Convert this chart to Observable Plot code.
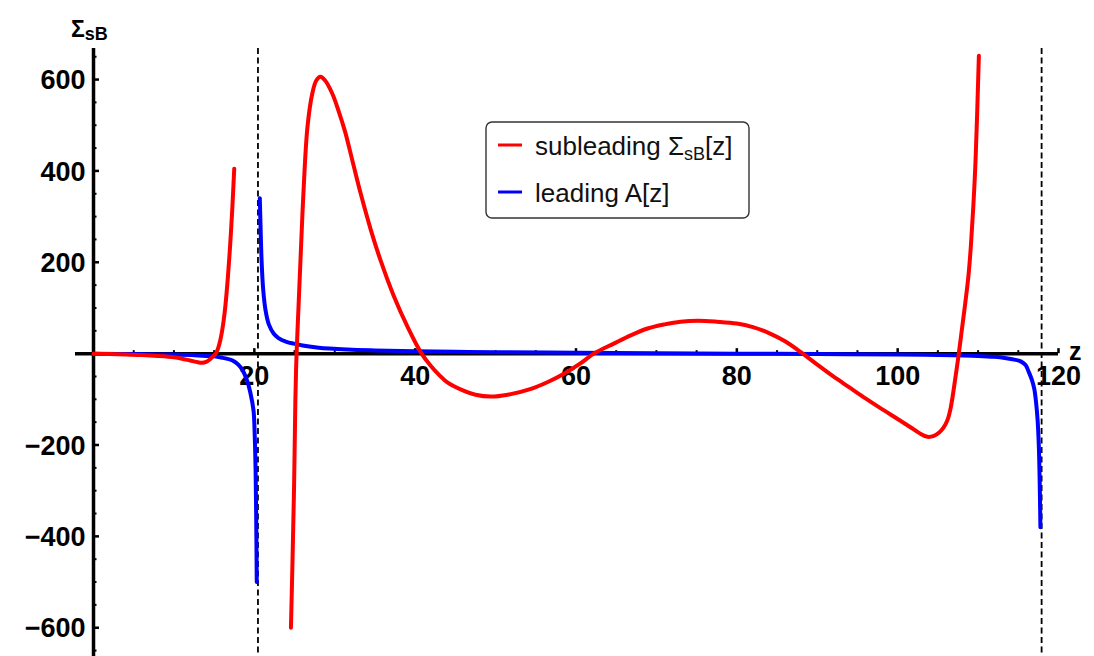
<!DOCTYPE html>
<html>
<head>
<meta charset="utf-8">
<script src="https://cdn.jsdelivr.net/npm/d3@7"></script>
<script src="https://cdn.jsdelivr.net/npm/@observablehq/plot@0.6"></script>
<style>
  body { margin: 0; background: #fff; }
  #chart { width: 1094px; height: 656px; overflow: hidden; }
</style>
</head>
<body>
<div id="chart"></div>
<script>
// ---- data ----
// subleading Σ_sB[z] (red), two branches
const redX1 = [0, 2, 4, 6, 8, 10, 11, 12, 13, 13.5, 14, 14.5, 15, 15.2, 15.5, 15.8, 16.1, 16.4, 16.7, 17.0, 17.25, 17.5];
const redY1 = [0, -1, -2, -3, -5, -8, -11, -15, -19, -20, -18, -12, -4, 0, 12, 32, 62, 105, 165, 240, 315, 405];
const redX2 = [24.55, 24.75, 24.95, 25.1, 25.25, 25.5, 25.75, 26.1, 26.6, 27.2, 27.7, 28.2, 28.8, 29.7, 30.5, 31.3, 32.2, 33.2, 34.5, 35.7, 37.3, 39.1, 40.8,
  41.9, 43, 44, 46, 47.5, 49.4, 51.5, 54.4, 56.5, 58.5, 60.5, 62.2, 64.7, 66.8, 68.9, 71, 73, 75.2, 77.5, 80, 82, 84, 86, 88.2,
  90, 92, 94, 96, 98, 100, 101.5, 102.7, 103.7, 104.5, 105.2, 105.7, 106.2, 106.6, 107.2, 107.6, 108, 108.4, 108.8, 109.1, 109.4, 109.7, 110.1];
const redY2 = [-600, -450, -280, -103, 0, 105, 210, 350, 495, 569, 598, 606, 598, 569, 530, 485, 422, 352, 270, 204, 128, 57, 0,
  -26, -47, -63, -81, -90, -94, -90, -77, -62, -44, -22, 0, 22, 40, 55, 64, 70, 72, 70, 66, 58, 45, 27, 0,
  -24, -50, -74, -98, -121, -143, -160, -174, -182, -180, -172, -162, -145, -118, -50, 0, 55, 110, 170, 235, 320, 430, 652];

// leading A[z] (blue), two branches
const blueX1 = [0, 5, 10, 13, 15, 16, 17, 17.4, 18, 18.5, 19.1, 19.5, 19.9, 20.05, 20.15, 20.22, 20.3];
const blueY1 = [0, -1, -2, -4, -6, -9, -13, -16, -24, -35, -59, -85, -125, -180, -250, -340, -500];
const blueX2 = [20.68, 20.8, 20.9, 21.1, 21.4, 21.8, 22.4, 23, 24, 24.9, 26, 28, 31.6, 35, 40, 45, 50, 60, 70, 80, 90, 100, 105,
  110, 112, 113.5, 114.5, 115.3, 115.9, 116.3, 116.7, 117, 117.2, 117.4, 117.55, 117.65, 117.75];
const blueY2 = [340, 260, 204, 140, 94, 64, 44, 34, 26, 22, 18, 13, 9, 7, 5, 4, 3, 2, 1, 0, -1, -2, -3,
  -5, -7, -10, -13, -17, -25, -40, -58, -78, -105, -145, -200, -270, -380];

// vertical dashed asymptotes
const poles = [20.45, 117.9];

// ticks and tick labels
const xMajor = [20, 40, 60, 80, 100, 120];
const xLabels = ["20", "40", "60", "80", "100", "120"];
const xMinor = [5, 10, 15, 25, 30, 35, 45, 50, 55, 65, 70, 75, 85, 90, 95, 105, 110, 115];
const yMajor = [-600, -400, -200, 200, 400, 600];
const yLabels = ["−600", "−400", "−200", "200", "400", "600"];
const yMinor = [-650, -550, -500, -450, -350, -300, -250, -150, -100, -50, 50, 100, 150, 250, 300, 350, 450, 500, 550, 650];

const legendLabels = ["subleading Σ", "leading A[z]"];

// ---- build tables ----
const toRows = (xs, ys, seg) => xs.map((x, i) => ({x, y: ys[i], seg}));
const red = [...toRows(redX1, redY1, "a"), ...toRows(redX2, redY2, "b")];
const blue = [...toRows(blueX1, blueY1, "a"), ...toRows(blueX2, blueY2, "b")];
const xTickRows = xMajor.map((v, i) => ({v, label: xLabels[i]}));
const yTickRows = yMajor.map((v, i) => ({v, label: yLabels[i]}));

const FONT = "'Liberation Sans', Arial, Helvetica, sans-serif";

const plot = Plot.plot({
  width: 1094,
  height: 656,
  marginLeft: 75,
  marginRight: 36,
  marginTop: 48,
  marginBottom: 0,
  x: {type: "linear", domain: [-2.24, 120], axis: null},
  y: {type: "linear", domain: [-663, 668], axis: null},
  style: {background: "white", fontFamily: FONT, overflow: "visible"},
  marks: [
    // axes
    Plot.ruleY([0], {stroke: "black", strokeWidth: 3.5}),
    Plot.ruleX([0], {stroke: "black", strokeWidth: 3.5}),
    // x ticks (upward)
    Plot.ruleX(xMajor, {x: d => d, y1: 0, y2: 0, insetTop: -5, stroke: "black", strokeWidth: 2.5}),
    Plot.ruleX(xMinor, {x: d => d, y1: 0, y2: 0, insetTop: -3, stroke: "black", strokeWidth: 2}),
    // y ticks (rightward)
    Plot.ruleY(yMajor, {y: d => d, x1: 0, x2: 0, insetRight: -6, stroke: "black", strokeWidth: 2.5}),
    Plot.ruleY(yMinor, {y: d => d, x1: 0, x2: 0, insetRight: -3.5, stroke: "black", strokeWidth: 2}),
    // dashed asymptotes
    Plot.ruleX(poles, {stroke: "black", strokeWidth: 1.8, strokeDasharray: "6,3.5"}),
    // tick labels
    Plot.text(xTickRows, {x: "v", y: 0, text: "label", dy: 23, fontSize: 27, fontWeight: "bold", fill: "black", textAnchor: "middle"}),
    Plot.text(yTickRows, {x: 0, y: "v", text: "label", dx: -8, dy: 1, fontSize: 27, fontWeight: "bold", fill: "black", textAnchor: "end"}),
    // curves
    Plot.line(blue, {x: "x", y: "y", z: "seg", stroke: "#0000ff", strokeWidth: 4, curve: "catmull-rom"}),
    Plot.line(red, {x: "x", y: "y", z: "seg", stroke: "#ff0000", strokeWidth: 4, curve: "catmull-rom"})
  ]
});

document.getElementById("chart").appendChild(plot);

// extra text elements: axis labels and legend
const svg = d3.select(plot);
const xs = plot.scale("x"), ys = plot.scale("y");
const x0 = xs.apply(0), y0 = ys.apply(0);

// y axis label Σ_sB
const yl = svg.append("text")
  .attr("x", x0 - 22).attr("y", 37).attr("text-anchor", "start")
  .attr("font-family", FONT).attr("font-weight", "bold").attr("font-size", 23).attr("fill", "black");
yl.append("tspan").text("Σ");
yl.append("tspan").attr("dy", 3).attr("font-size", 18).text("sB");

// x axis label z
svg.append("text")
  .attr("x", xs.apply(120) + 11).attr("y", y0 + 7).attr("text-anchor", "start")
  .attr("font-family", FONT).attr("font-weight", "bold").attr("font-size", 25).attr("fill", "black")
  .text("z");

// legend
const lg = svg.append("g").attr("transform", "translate(486,122)");
lg.append("rect").attr("x", 0).attr("y", 0).attr("width", 263).attr("height", 96)
  .attr("rx", 6).attr("fill", "white").attr("stroke", "#333").attr("stroke-width", 1.4);
lg.append("line").attr("x1", 12).attr("x2", 36).attr("y1", 23).attr("y2", 23).attr("stroke", "#ff0000").attr("stroke-width", 3);
lg.append("line").attr("x1", 12).attr("x2", 36).attr("y1", 70).attr("y2", 70).attr("stroke", "#0000ff").attr("stroke-width", 3);
const t1 = lg.append("text").attr("x", 49).attr("y", 33).attr("text-anchor", "start")
  .attr("font-family", FONT).attr("font-size", 26).attr("fill", "#111");
t1.append("tspan").text(legendLabels[0]);
t1.append("tspan").attr("dy", 5).attr("font-size", 18).text("sB");
t1.append("tspan").attr("dy", -5).text("[z]");
lg.append("text").attr("x", 49).attr("y", 80).attr("text-anchor", "start")
  .attr("font-family", FONT).attr("font-size", 26).attr("fill", "#111")
  .text(legendLabels[1]);
</script>
</body>
</html>
